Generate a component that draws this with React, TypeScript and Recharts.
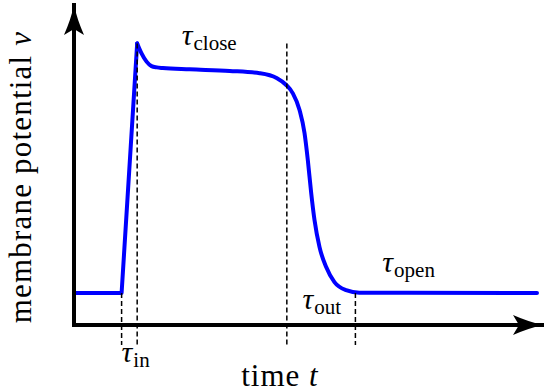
import { ComposedChart, Line, XAxis, YAxis, ReferenceLine, ReferenceDot } from 'recharts';

// Membrane potential trace: a linear rise up to the spike, then the plateau and the decay
const riseTime = [0, 1.015, 1.347];
const riseV = [1.0, 1.0, 8.8];

const decayTime = [1.347, 1.44, 1.547, 1.653, 1.766, 1.894, 2.468, 3.319, 3.957, 4.319, 4.526, 4.666, 4.809, 4.915, 4.985, 5.057, 5.128, 5.234, 5.377, 5.553, 5.802, 6.085, 9.872];
const decayV = [8.8, 8.49, 8.23, 8.09, 8.05, 8.03, 7.99, 7.94, 7.87, 7.72, 7.5, 7.24, 6.72, 6.0, 5.16, 4.13, 3.28, 2.44, 1.81, 1.34, 1.09, 1.01, 1.0];

// Dashed time markers: position, top and bottom end
const markerTime = [1.015, 1.347, 4.538, 6.0];
const markerTop = [1.0, 8.8, 8.8, 1.0];
const markerBottom = -0.625;

// Interval annotations (tau with a subscript)
const tauNames = ['close', 'in', 'out', 'open'];
const tauTime = [2.298, 1.015, 4.87, 6.574];
const tauV = [8.75, -1.156, 0.5, 1.656];

const riseData = riseTime.map((t, i) => ({ t, v: riseV[i] }));
const decayData = decayTime.map((t, i) => ({ t, v: decayV[i] }));

const FONT = "'Liberation Serif', 'DejaVu Serif', serif";

const TauLabel = (props: any) => {
    const { cx, cy, name } = props;
    return (
        <text x={cx} y={cy} style={{ fontFamily: FONT }} fill="#000">
            <tspan fontSize={30} fontStyle="italic">τ</tspan>
            <tspan fontSize={21} dy={5} dx={1}>{name}</tspan>
        </text>
    );
};

const TimeLabel = (props: any) => {
    const { viewBox } = props;
    const x = viewBox.x + 206;
    const y = viewBox.y + 61;
    return (
        <text x={x} y={y} textAnchor="middle" style={{ fontFamily: FONT }} fontSize={31} letterSpacing={1} fill="#000">
            time <tspan fontStyle="italic">t</tspan>
        </text>
    );
};

const PotentialLabel = () => {
    const x = 31;
    const y = 177;
    return (
        <text x={x} y={y} transform={`rotate(-90, ${x}, ${y})`} textAnchor="middle" style={{ fontFamily: FONT }} fontSize={31} letterSpacing={1.2} fill="#000">
            membrane potential <tspan fontStyle="italic">v</tspan>
        </text>
    );
};

const axisStyle = {
    stroke: '#000',
    strokeWidth: 4,
    strokeLinecap: 'square' as const,
};

export default function App() {
    return (
        <div style={{ position: 'absolute', left: 0, top: 0, background: '#fff' }}>
            <ComposedChart width={544} height={392} margin={{ top: 5, right: 1, left: 0, bottom: 0 }}>
                <defs>
                    <marker
                        id="arrowHead"
                        viewBox="-32 -12 34 24"
                        refX={0}
                        refY={0}
                        markerWidth={34}
                        markerHeight={24}
                        markerUnits="userSpaceOnUse"
                        orient="auto-start-reverse"
                    >
                        <path d="M0,0 Q-14,-3 -30,-10 L-24,0 L-30,10 Q-14,3 0,0 Z" fill="#000" />
                    </marker>
                </defs>
                <XAxis
                    type="number"
                    dataKey="t"
                    domain={[0, 10]}
                    height={67}
                    tick={false}
                    tickLine={false}
                    axisLine={{ ...axisStyle, markerEnd: 'url(#arrowHead)' }}
                    label={<TimeLabel />}
                    allowDataOverflow
                />
                <YAxis
                    type="number"
                    dataKey="v"
                    domain={[0, 10]}
                    width={74}
                    tick={false}
                    tickLine={false}
                    axisLine={{ ...axisStyle, markerStart: 'url(#arrowHead)' }}
                    label={<PotentialLabel />}
                    allowDataOverflow
                />
                <Line
                    data={riseData}
                    dataKey="v"
                    type="linear"
                    stroke="#0000ff"
                    strokeWidth={4}
                    strokeLinejoin="round"
                    strokeLinecap="round"
                    dot={false}
                    activeDot={false}
                    isAnimationActive={false}
                />
                <Line
                    data={decayData}
                    dataKey="v"
                    type="monotone"
                    stroke="#0000ff"
                    strokeWidth={4}
                    strokeLinejoin="round"
                    strokeLinecap="round"
                    dot={false}
                    activeDot={false}
                    isAnimationActive={false}
                />
                {markerTime.map((t, i) => (
                    <ReferenceLine
                        key={`m-${i}`}
                        segment={[{ x: t, y: markerTop[i] }, { x: t, y: markerBottom }]}
                        stroke="#000"
                        strokeWidth={1.5}
                        strokeDasharray="5 3"
                        ifOverflow="visible"
                    />
                ))}
                {tauNames.map((name, i) => (
                    <ReferenceDot
                        key={`tau-${name}`}
                        x={tauTime[i]}
                        y={tauV[i]}
                        r={0}
                        ifOverflow="visible"
                        shape={(p: any) => <TauLabel {...p} name={name} />}
                    />
                ))}
            </ComposedChart>
        </div>
    );
}
